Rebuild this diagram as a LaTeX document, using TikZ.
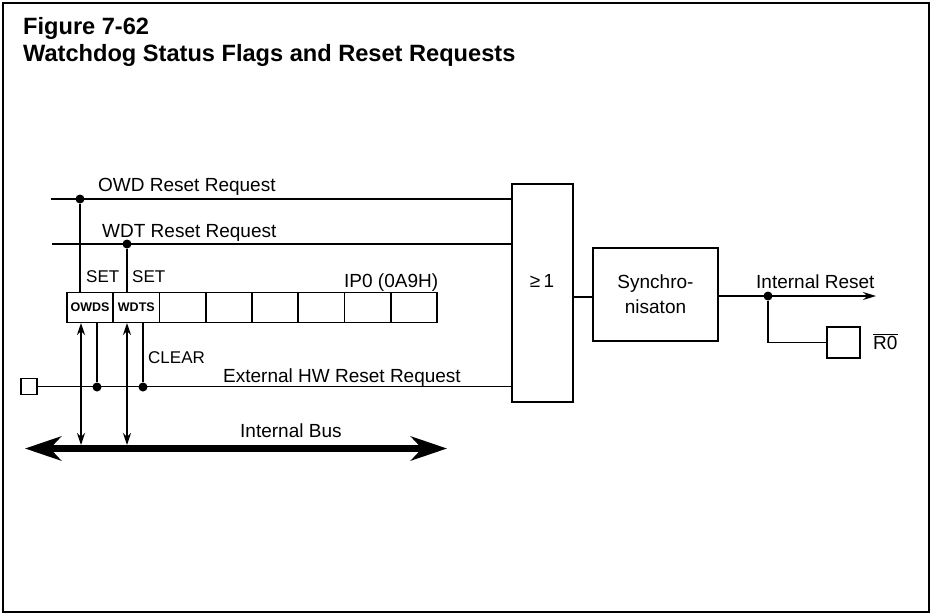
\documentclass[tikz,border=0pt]{standalone}
\usepackage{fontspec}
\setmainfont{Liberation Sans}
\usetikzlibrary{arrows.meta}
\tikzset{
  ttl/.style={font=\fontsize{23.6}{26}\selectfont\bfseries, inner sep=0pt, anchor=base west},
  lbl/.style={font=\fontsize{19}{22}\selectfont, inner sep=0pt, anchor=base west},
  sm/.style={font=\fontsize{17}{20}\selectfont, inner sep=0pt, anchor=base west},
  wire/.style={line width=1.7pt},
  box/.style={draw, line width=1.9pt, inner sep=0pt},
  dot/.style={circle, fill, inner sep=0pt, minimum size=9pt},
  cell/.style={draw, line width=1.9pt, minimum width=46.25pt, minimum height=30pt,
    inner sep=0pt, anchor=north west, font=\fontsize{12.5}{13}\selectfont\bfseries},
  bidir/.style={line width=1.5pt, {Stealth[length=12pt,width=8pt]}-{Stealth[length=12pt,width=8pt]}},
  bus/.style={line width=7.5pt, {Stealth[length=36pt,width=24pt,inset=11pt]}-{Stealth[length=36pt,width=24pt,inset=11pt]}},
}
\begin{document}
\begin{tikzpicture}[x=1pt,y=-1pt]
\useasboundingbox (0,0) rectangle (933,615);
\draw[line width=2pt] (3,3) rectangle (929,612);

% title
\node[ttl] (t1) at (23,35) {Figure 7-62};
\node[ttl] (t2) at (23,62) {Watchdog Status Flags and Reset Requests};

% logic blocks
\node[box, minimum width=61pt, minimum height=218pt] (gate) at (542.5,293) {};
\node[font=\fontsize{19}{22}\selectfont, inner sep=0pt, anchor=base] (ge) at (542,287) {≥\,1};
\node[box, minimum width=125pt, minimum height=93pt, align=center,
  font=\fontsize{19}{25}\selectfont] (sync) at (655.5,294.5) {Synchro-\\nisaton};

% register IP0
\foreach \i/\t in {0/OWDS,1/WDTS,2/,3/,4/,5/,6/,7/}{
  \node[cell] (c\i) at ({66+46.25*\i},291.5) {\t};
}
\node[lbl] (ip) at (344,287) {IP0 (0A9H)};

% inputs
\coordinate (owdL) at (51,199);
\coordinate (wdtL) at (52,244);
\node[dot] (d1) at (80,199) {};
\node[dot] (d2) at (127,244) {};
\draw[wire] (owdL) -- (gate.west |- owdL);
\draw[wire] (wdtL) -- (gate.west |- wdtL);
\draw[wire] (d1) -- (d1 |- c0.north);
\draw[wire] (d2) -- (d2 |- c1.north);
\node[lbl] (owdT) at (98,191) {OWD Reset Request};
\node[lbl] (wdtT) at (102,237) {WDT Reset Request};
\node[sm] (set1) at (86,282) {SET};
\node[sm] (set2) at (132,282) {SET};

% external HW reset
\node[box, minimum size=16pt] (hw) at (29,386.5) {};
\node[dot] (d3) at (97,387) {};
\node[dot] (d4) at (143,387) {};
\draw[wire] (hw.east) -- (gate.west |- hw.east);
\draw[wire] (d3 |- c0.south) -- (d3);
\draw[wire] (d4 |- c1.south) -- (d4);
\node[sm] (clr) at (148,363) {CLEAR};
\node[lbl] (hwT) at (223,382) {External HW Reset Request};

% internal bus
\coordinate (busL) at (25,448.5);
\coordinate (busR) at (447,448.5);
\draw[bus] (busL) -- (busR);
\coordinate (a1t) at (81,323);
\coordinate (a1b) at (81,445);
\coordinate (a2t) at (127,323);
\coordinate (a2b) at (127,445);
\draw[bidir] (a1t) -- (a1b);
\draw[bidir] (a2t) -- (a2b);
\node[lbl] (busT) at (240,437) {Internal Bus};

% output side
\coordinate (gout) at (573,297);
\draw[wire] (gate.east |- gout) -- (sync.west |- gout);
\coordinate (irEnd) at (876,296);
\node[dot] (d5) at (768,296) {};
\draw[wire, -{Stealth[length=13pt,width=8pt]}] (sync.east |- irEnd) -- (irEnd);
\node[lbl] (irT) at (756,288) {Internal Reset};
\node[box, minimum width=33pt, minimum height=31pt] (r0) at (843.5,342.5) {};
\draw[wire] (d5) |- (r0.west);
\node[lbl] (r0T) at (873,349) {$\overline{\mbox{R0}}$};
\end{tikzpicture}
\end{document}
